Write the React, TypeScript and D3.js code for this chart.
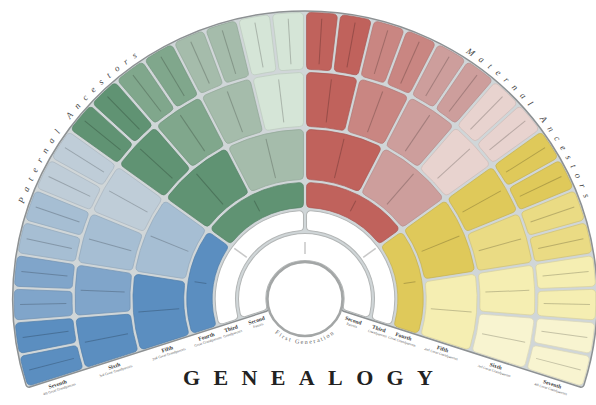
import React from 'react';
import * as d3 from 'd3';

// generation rings, from the centre circle outwards
const generations = ['First', 'Second', 'Third', 'Fourth', 'Fifth', 'Sixth', 'Seventh'];
const relations = ['Generation', 'Parents', 'Grandparents', 'Great Grandparents', '2nd Great Grandparents', '3rd Great Grandparents', '4th Great Grandparents'];
const cellsPerRing = [1, 1, 2, 4, 8, 16, 32];

// quadrants from bottom-left, clockwise: shades go from the strong end to the pale end
const blueShades = ['#5b8ec0', '#80a5ca', '#a6bed3', '#bfcdd8'];
const greenShades = ['#609373', '#80a78c', '#a5bcab', '#d5e5d7'];
const redShades = ['#c0625c', '#c98682', '#cd9e9c', '#e8d3cf'];
const yellowShades = ['#dfc95a', '#eadb84', '#f5eeb2', '#f8f4d0'];
const palettes = [blueShades, greenShades, redShades, yellowShades];

const sideTitles = ['Paternal Ancestors', 'Maternal Ancestors'];
const title = 'GENEALOGY';

const W = 596;
const H = 405;
const cx = 305;
const cy = 299;
const radii = [0, 37, 67, 90, 118, 171, 228, 288];
const span = 108;
const serif = "'Liberation Serif', 'DejaVu Serif', serif";
const rad = (d: number) => (d * Math.PI) / 180;
const pt = (r: number, a: number) => [r * Math.sin(a), -r * Math.cos(a)];

export default function App() {
  const angle = d3.scaleLinear().domain([0, 1]).range([rad(-span), rad(span)]);

  const cellArc = d3.arc<any>()
    .innerRadius(d => d.r0 + 1.5)
    .outerRadius(d => d.r1 - 1.5)
    .startAngle(d => d.a0)
    .endAngle(d => d.a1)
    .padAngle(0.03)
    .padRadius(100)
    .cornerRadius(4);

  const backArc = d3.arc<any>()
    .innerRadius(radii[1])
    .outerRadius(radii[7])
    .startAngle(rad(-span))
    .endAngle(rad(span))
    .cornerRadius(3);

  const cells: any[] = [];
  for (let g = 1; g < cellsPerRing.length; g++) {
    const n = cellsPerRing[g];
    for (let i = 0; i < n; i++) {
      let fill = '#ffffff';
      if (n >= 4) {
        const m = n / 4;
        const q = Math.floor(i / m);
        const j = i % m;
        const k = m <= 4 ? j * (4 / m) : Math.floor(j / (m / 4));
        fill = palettes[q][k];
      }
      cells.push({ g, i, n, r0: radii[g], r1: radii[g + 1], a0: angle(i / n), a1: angle((i + 1) / n), fill });
    }
  }

  // writing lines inside each cell
  const lines = cells.map(c => {
    const mid = (c.a0 + c.a1) / 2;
    const depth = c.r1 - c.r0;
    let f0 = 0.12, f1 = 0.88;
    if (c.g === 3) { f0 = 0.3; f1 = 0.72; }
    if (c.g === 1) { f0 = 0.27; f1 = 0.67; }
    if (c.g === 2) { f0 = 0.17; f1 = 0.83; }
    const [x1, y1] = pt(c.r0 + depth * f0, mid);
    const [x2, y2] = pt(c.r0 + depth * f1, mid);
    const stroke = c.fill === '#ffffff' ? '#c8c8c8' : d3.color(c.fill)!.darker(0.9).formatHex();
    return { x1, y1, x2, y2, stroke, white: c.fill === '#ffffff' };
  });

  const edge = rad(span);
  const labels = generations.slice(1).map((name, idx) => {
    const g = idx + 1;
    const rm = (radii[g] + radii[g + 1]) / 2;
    return { name, sub: relations[g], rm };
  });

  const firstR = 45;
  const fp = (phi: number) => [firstR * Math.cos(rad(phi)), firstR * Math.sin(rad(phi))];
  const [fx0, fy0] = fp(160);
  const [fx1, fy1] = fp(20);
  const firstPath = `M${fx0},${fy0} A${firstR},${firstR} 0 0 0 ${fx1},${fy1}`;

  const titleR = 293;
  const sidePath = (a0: number, a1: number) => {
    const [x0, y0] = pt(titleR, rad(a0));
    const [x1, y1] = pt(titleR, rad(a1));
    return `M${x0},${y0} A${titleR},${titleR} 0 0 1 ${x1},${y1}`;
  };
  // both titles are centred about 52 degrees either side of the top
  const patOffset = titleR * rad(75 - 52);
  const matOffset = titleR * rad(52 - 20);

  return (
    <svg width={W} height={H} style={{ position: 'absolute', left: 0, top: 0, background: '#fff' }}>
      <defs>
        <path id="firstPath" d={firstPath} />
        <path id="patPath" d={sidePath(-75, -20)} />
        <path id="matPath" d={sidePath(20, 75)} />
      </defs>
      <g transform={`translate(${cx},${cy}) scale(1.015,1)`}>
        <path d={backArc(null as any)!} fill="#d0d6d8" stroke="#8d9193" strokeWidth={1.5} />
        {cells.map(c => (
          <path key={`${c.g}-${c.i}`} d={cellArc(c)!} fill={c.fill}
            stroke={c.fill === '#ffffff' ? '#b3b6b6' : d3.color(c.fill)!.darker(0.35).formatHex()}
            strokeWidth={c.fill === '#ffffff' ? 1 : 0.7} />
        ))}
        {lines.map((l, i) => (
          <line key={i} x1={l.x1} y1={l.y1} x2={l.x2} y2={l.y2} stroke={l.stroke}
            strokeWidth={l.white ? 1.5 : 1} strokeOpacity={l.white ? 1 : 0.75} />
        ))}
        <circle r={radii[1]} fill="#fff" stroke="#a3a6a6" strokeWidth={2.5} />
        <text fontFamily={serif} fontSize={6} fill="#666" letterSpacing={1.6}>
          <textPath href="#firstPath" startOffset="50%" textAnchor="middle">First Generation</textPath>
        </text>
        {labels.map(l => [-1, 1].map(side => {
          const a = side * edge;
          const [ex, ey] = pt(l.rm, a);
          const nrm = side < 0 ? [-Math.cos(a), -Math.sin(a)] : [Math.cos(a), Math.sin(a)];
          const rot = side < 0 ? -(span - 90) : span - 90;
          return (
            <g key={`${l.name}${side}`} transform={`translate(${ex + nrm[0] * 1.5},${ey + nrm[1] * 1.5}) rotate(${rot})`}>
              <text y={6} textAnchor="middle" fontFamily={serif} fontSize={5.5} fontWeight="bold" fill="#3a3a3a">{l.name}</text>
              <text y={10.5} textAnchor="middle" fontFamily={serif} fontSize={3.6} fill="#555">{l.sub}</text>
            </g>
          );
        }))}
        <text fontFamily={serif} fontSize={9} fontStyle="italic" fill="#444" letterSpacing={7}>
          <textPath href="#patPath" startOffset={patOffset} textAnchor="middle">{sideTitles[0]}</textPath>
        </text>
        <text fontFamily={serif} fontSize={9} fontStyle="italic" fill="#444" letterSpacing={7}>
          <textPath href="#matPath" startOffset={matOffset} textAnchor="middle">{sideTitles[1]}</textPath>
        </text>
      </g>
      <text x={183} y={385} fontFamily={serif} fontSize={22} fontWeight="bold" fill="#222"
        textLength={250} lengthAdjust="spacing">{title}</text>
    </svg>
  );
}
